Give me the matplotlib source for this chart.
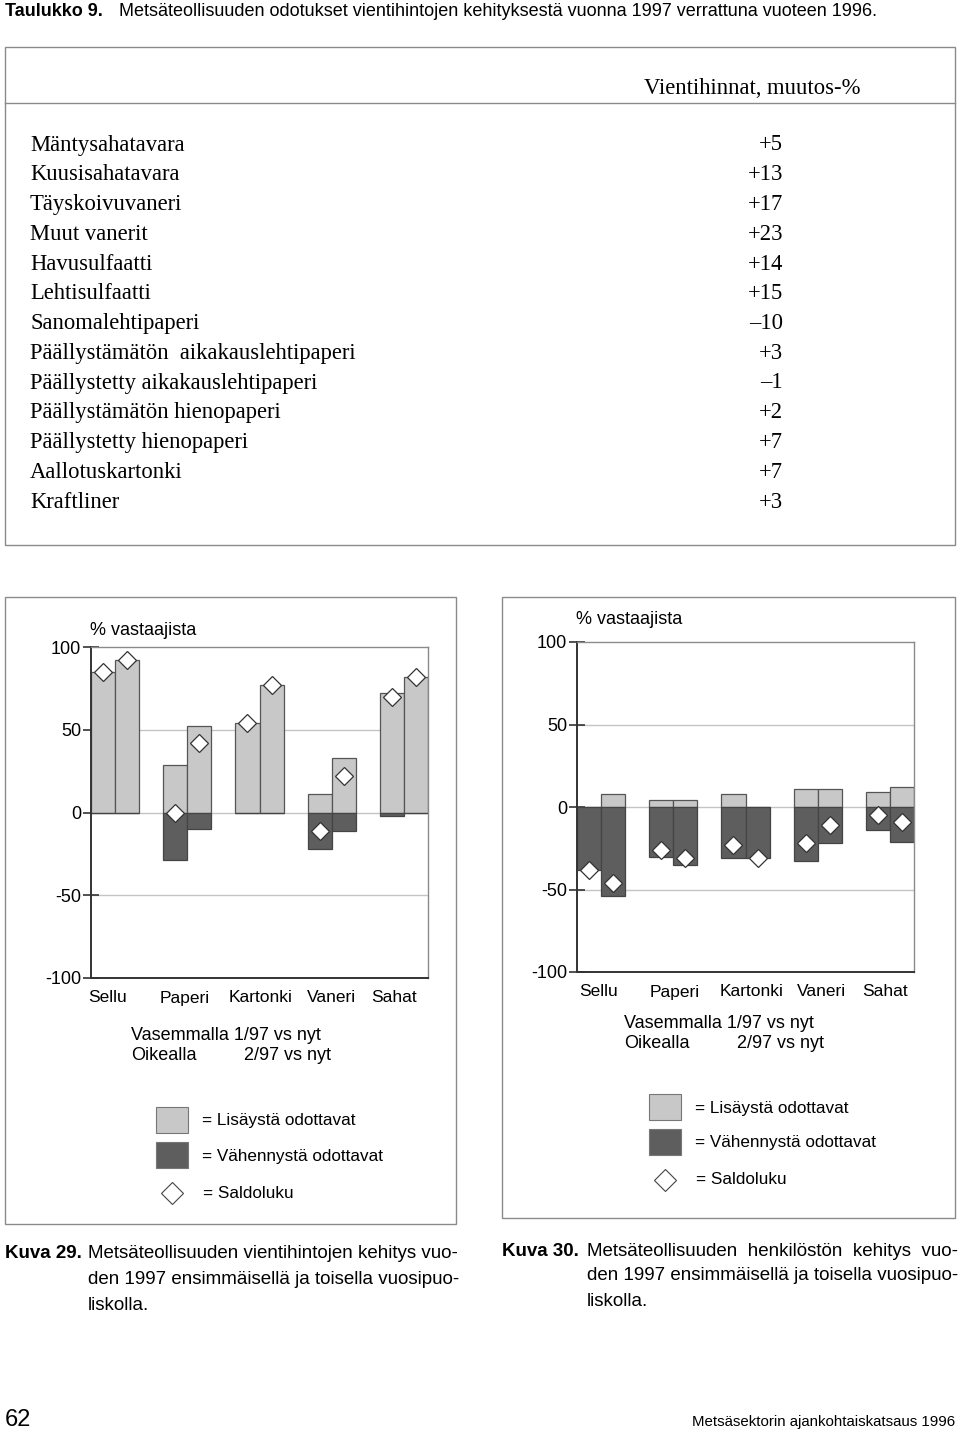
"""Page with export price table and two survey bar charts."""

import matplotlib
matplotlib.use("Agg")
import matplotlib.pyplot as plt
from matplotlib.patches import Rectangle
from matplotlib.lines import Line2D
import numpy as np

W, H = 960, 1438

# --- table data ---
products = ["Mäntysahatavara", "Kuusisahatavara", "Täyskoivuvaneri", "Muut vanerit",
            "Havusulfaatti", "Lehtisulfaatti", "Sanomalehtipaperi",
            "Päällystämätön  aikakauslehtipaperi", "Päällystetty aikakauslehtipaperi",
            "Päällystämätön hienopaperi", "Päällystetty hienopaperi",
            "Aallotuskartonki", "Kraftliner"]
price_change = ["+5", "+13", "+17", "+23", "+14", "+15", "\u201310", "+3", "\u20131",
                "+2", "+7", "+7", "+3"]

# --- chart data ---
groups = ["Sellu", "Paperi", "Kartonki", "Vaneri", "Sahat"]
# Kuva 29: vientihinnat (left bar = 1/97, right bar = 2/97)
k29_up_1 = [85, 29, 54, 11, 72]
k29_down_1 = [0, 29, 0, 22, 2]
k29_saldo_1 = [85, 0, 54, -11, 70]
k29_up_2 = [92, 52, 77, 33, 82]
k29_down_2 = [0, 10, 0, 11, 0]
k29_saldo_2 = [92, 42, 77, 22, 82]
# Kuva 30: henkilöstö
k30_up_1 = [0, 4, 8, 11, 9]
k30_down_1 = [38, 30, 31, 33, 14]
k30_saldo_1 = [-38, -26, -23, -22, -5]
k30_up_2 = [8, 4, 0, 11, 12]
k30_down_2 = [54, 35, 31, 22, 21]
k30_saldo_2 = [-46, -31, -31, -11, -9]
y_ticks = [100, 50, 0, -50, -100]

LIGHT = "#c8c8c8"
DARK = "#5e5e5e"
SANS = ["Liberation Sans", "DejaVu Sans"]
SERIF = ["Liberation Serif", "DejaVu Serif"]

fig = plt.figure(figsize=(W / 100, H / 100), dpi=100)


def fx(x):
    return x / W


def fy(y):
    return 1 - y / H


def ftext(x, y, s, **kw):
    kw.setdefault("va", "center")
    fig.text(fx(x), fy(y), s, **kw)


def frame(x0, y0, x1, y1, color="#8a8a8a", lw=1.0):
    fig.patches.append(Rectangle((fx(x0), fy(y1)), fx(x1) - fx(x0), fy(y0) - fy(y1),
                                 transform=fig.transFigure, fill=False,
                                 edgecolor=color, linewidth=lw))


# --- title and table ---
ftext(5, 12, "Taulukko 9.", family=SANS, fontsize=13, fontweight="bold")
ftext(119, 12, "Metsäteollisuuden odotukset vientihintojen kehityksestä vuonna 1997 "
      "verrattuna vuoteen 1996.", family=SANS, fontsize=13)

frame(5, 47, 955, 545)
fig.lines.append(Line2D([fx(5), fx(955)], [fy(103), fy(103)], transform=fig.transFigure,
                        color="#8a8a8a", linewidth=1.0))
ftext(860, 88, "Vientihinnat, muutos-%", family=SERIF, fontsize=16.3, ha="right")
for i, (name, val) in enumerate(zip(products, price_change)):
    y = 145 + i * 29.75
    ftext(30, y, name, family=SERIF, fontsize=16.3)
    ftext(783, y, val, family=SERIF, fontsize=16.3, ha="right")


# --- charts ---
def draw_chart(box, ax_px, up1, down1, sal1, up2, down2, sal2, unit_label_y,
               label_offsets, caption_px, legend_px):
    frame(*box)
    left, top, right, bottom = ax_px
    ax = fig.add_axes([fx(left), fy(bottom), fx(right) - fx(left), fy(top) - fy(bottom)])
    x = np.arange(len(groups))
    w = 1 / 3
    for off, up, down, sal in ((-w / 2, up1, down1, sal1), (w / 2, up2, down2, sal2)):
        up = np.array(up)
        down = np.array(down)
        ax.bar(x + off, up, width=w, color=LIGHT, edgecolor="#555555", linewidth=0.9,
               zorder=2)
        ax.bar(x + off, -down, width=w, color=DARK, edgecolor="#444444", linewidth=0.9,
               zorder=2)
        ax.plot(x + off, sal, linestyle="none", marker="D", markersize=8.7,
                markerfacecolor="white", markeredgecolor="#333333", markeredgewidth=0.9,
                zorder=4, clip_on=False)
    for g in (50, 0, -50):
        ax.axhline(g, color="#c4c4c4", linewidth=1.0, zorder=1)
    ax.set_xlim(-w, len(groups) - 1 + w)
    ax.set_ylim(-100, 100)
    ax.set_yticks(y_ticks)
    ax.set_yticklabels([str(t) for t in y_ticks], family=SANS, fontsize=13)
    ax.tick_params(axis="y", direction="inout", length=12, width=1.2, pad=1,
                   color="#333333")
    ax.set_xticks([])
    for side in ("left", "bottom"):
        ax.spines[side].set_color("#333333")
        ax.spines[side].set_linewidth(1.4)
    for side in ("top", "right"):
        ax.spines[side].set_color("#8a8a8a")
        ax.spines[side].set_linewidth(1.0)
    ax.set_facecolor("white")

    ftext(left - 1, unit_label_y, "% vastaajista", family=SANS, fontsize=13)
    label_y = bottom + 20
    for xi, g, dx in zip(x, groups, label_offsets):
        xp = left + (xi + w) / (len(groups) - 1 + 2 * w) * (right - left)
        ftext(xp + dx, label_y, g, family=SANS, fontsize=12.5, ha="center")

    cx, cy = caption_px
    ftext(cx, cy, "Vasemmalla 1/97 vs nyt", family=SANS, fontsize=13)
    ftext(cx, cy + 20, "Oikealla", family=SANS, fontsize=13)
    ftext(cx + 113, cy + 20, "2/97 vs nyt", family=SANS, fontsize=13)

    lx, ly = legend_px
    for k, (col, txt) in enumerate(((LIGHT, "= Lisäystä odottavat"),
                                    (DARK, "= Vähennystä odottavat"))):
        y0 = ly + k * 35
        fig.patches.append(Rectangle((fx(lx), fy(y0 + 26)), fx(32), 26 / H,
                                     transform=fig.transFigure, facecolor=col,
                                     edgecolor="#777777", linewidth=0.8))
        ftext(lx + 46, y0 + 14, txt, family=SANS, fontsize=12.3)
    fig.lines.append(Line2D([fx(lx + 16)], [fy(ly + 86)], transform=fig.transFigure,
                            marker="D", markersize=11.5, markerfacecolor="white",
                            markeredgecolor="#444444", markeredgewidth=0.8))
    ftext(lx + 47, ly + 86, "= Saldoluku", family=SANS, fontsize=12.3)


draw_chart((5, 597, 456, 1224), (91, 647, 428, 978),
           k29_up_1, k29_down_1, k29_saldo_1, k29_up_2, k29_down_2, k29_saldo_2,
           630, (-8, -3, 1, 0, -10), (131, 1036), (156, 1107))
draw_chart((502, 597, 955, 1218), (577, 642, 914, 972),
           k30_up_1, k30_down_1, k30_saldo_1, k30_up_2, k30_down_2, k30_saldo_2,
           619, (-3, 1, 6, 4, -5), (624, 1024), (649, 1094))

# --- captions ---
ftext(5, 1253, "Kuva 29.", family=SANS, fontsize=13.5, fontweight="bold")
for i, line in enumerate(["Metsäteollisuuden vientihintojen kehitys vuo-",
                          "den 1997 ensimmäisellä ja toisella vuosipuo-",
                          "liskolla."]):
    ftext(88, 1253 + i * 26, line, family=SANS, fontsize=13.5)
ftext(502, 1251, "Kuva 30.", family=SANS, fontsize=13.5, fontweight="bold")
for i, line in enumerate(["Metsäteollisuuden  henkilöstön  kehitys  vuo-",
                          "den 1997 ensimmäisellä ja toisella vuosipuo-",
                          "liskolla."]):
    ftext(587, 1251 + i * 25, line, family=SANS, fontsize=13.5)

ftext(5, 1420, "62", family=SANS, fontsize=17)
ftext(955, 1422, "Metsäsektorin ajankohtaiskatsaus 1996", family=SANS, fontsize=10.8,
      ha="right")

fig.savefig("out.png", dpi=100, facecolor="white")
